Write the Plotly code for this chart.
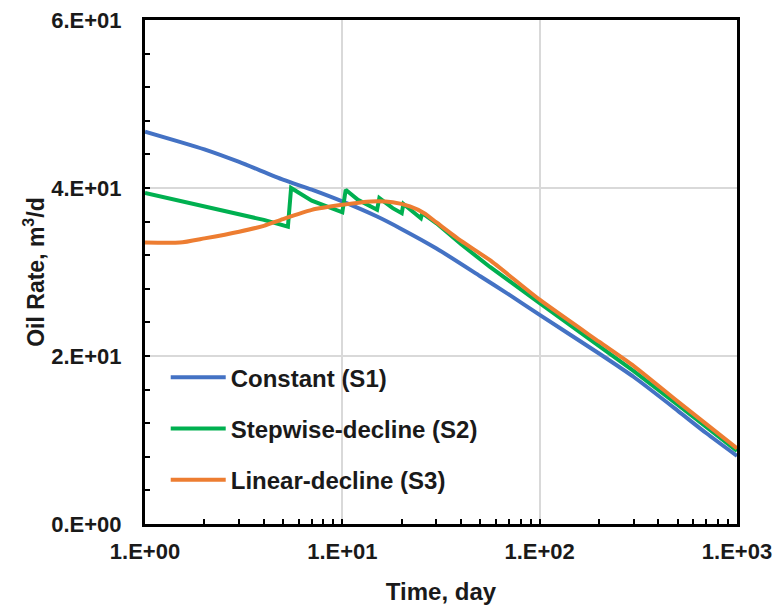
import plotly.graph_objects as go

# ---------------- data ----------------
time_s1 = [1, 1.5, 2, 3, 5, 7, 10, 15, 20, 30, 50, 70, 100, 200, 300, 500, 700, 1000]
rate_s1 = [46.7, 45.5, 44.6, 43.1, 41.0, 39.8, 38.4, 36.6, 35.1, 32.8, 29.5, 27.3, 24.9, 20.3, 17.5, 13.5, 10.8, 8.1]

time_s2 = [1, 2, 3, 4, 5.3, 5.5, 7, 10, 10.4, 12, 15, 15.4, 18, 20, 20.4, 25, 25.4, 30, 40, 56, 100, 200, 300, 500, 1000]
rate_s2 = [39.4, 37.8, 36.9, 36.2, 35.4, 40.0, 38.5, 37.1, 39.8, 38.6, 37.4, 38.8, 37.6, 37.0, 38.1, 36.4, 37.0, 35.8, 33.3, 30.6, 26.3, 21.2, 18.2, 14.2, 8.7]

time_s3 = [1, 1.5, 2, 3, 4, 5, 7, 10, 14, 18, 22, 26, 30, 40, 56, 100, 200, 300, 500, 1000]
rate_s3 = [33.5, 33.5, 34.0, 34.8, 35.5, 36.3, 37.4, 38.0, 38.4, 38.3, 37.8, 37.0, 35.9, 33.7, 31.4, 26.7, 21.7, 18.8, 14.6, 9.0]

names = ["Constant (S1)", "Stepwise-decline (S2)", "Linear-decline (S3)"]
colors = ["#4472C4", "#00B050", "#ED7D31"]
shapes_ = ["spline", "linear", "spline"]

x_tickvals = [1, 10, 100, 1000]
x_ticktext = ["1.E+00", "1.E+01", "1.E+02", "1.E+03"]
y_tickvals = [0, 20, 40, 60]
y_ticktext = ["0.E+00", "2.E+01", "4.E+01", "6.E+01"]

FONT = "Liberation Sans"
TXT = "#1a1a1a"

fig = go.Figure()
for i, (t, q) in enumerate([(time_s1, rate_s1), (time_s2, rate_s2), (time_s3, rate_s3)]):
    fig.add_trace(go.Scatter(
        x=t, y=q, mode="lines", name=names[i],
        line=dict(color=colors[i], width=4, shape=shapes_[i], smoothing=0.6),
        legendgroup=f"g{i}",
    ))

axis_common = dict(
    showline=True, linecolor="black", linewidth=3, mirror=True,
    ticks="inside", ticklen=5, tickwidth=2, tickcolor="black",
    gridcolor="#D9D9D9", gridwidth=2, zeroline=False, automargin=False,
    tickfont=dict(family=FONT, size=22, color=TXT, weight="bold"),
)

fig.update_xaxes(
    type="log", range=[0, 3],
    tickvals=x_tickvals, ticktext=x_ticktext,
    minor=dict(ticks="inside", ticklen=5, tickwidth=2, tickcolor="black", dtick="D1", showgrid=False),
    title=dict(text="Time, day", font=dict(family=FONT, size=24, color=TXT, weight="bold"), standoff=20),
    ticklabelstandoff=6,
    **axis_common,
)
fig.update_yaxes(
    range=[0, 60],
    tickvals=y_tickvals, ticktext=y_ticktext,
    minor=dict(ticks="inside", ticklen=5, tickwidth=2, tickcolor="black", dtick=4, showgrid=False),
    title=dict(text="Oil Rate, m<sup>3</sup>/d", font=dict(family=FONT, size=23, color=TXT, weight="bold"), standoff=1),
    ticklabelstandoff=16,
    **axis_common,
)

fig.update_layout(
    width=780, height=607,
    margin=dict(l=145, r=43, t=20, b=83),
    paper_bgcolor="white", plot_bgcolor="white",
    legend=dict(
        x=0.035, y=0.335, xanchor="left", yanchor="top",
        font=dict(family=FONT, size=24, color=TXT, weight="bold"),
        bgcolor="rgba(255,255,255,0)",
        tracegroupgap=17, itemwidth=55,
    ),
    showlegend=True,
)

fig.write_html("out.html")
